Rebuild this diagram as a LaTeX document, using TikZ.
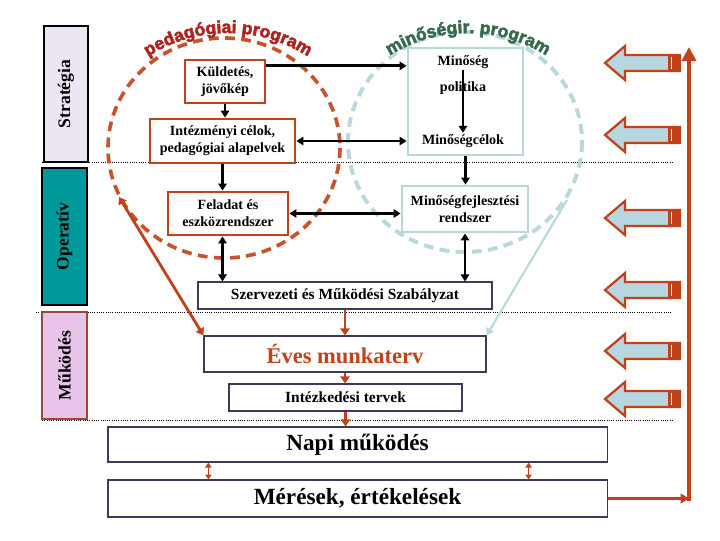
\documentclass[tikz,border=0pt]{standalone}
\usepackage{fontspec}
\setmainfont{Liberation Serif}
\setsansfont{Liberation Sans}
\newfontfamily\titlefont{Liberation Sans}[BoldFeatures={FakeBold=3}]
\usetikzlibrary{arrows.meta,decorations.text}
\definecolor{pedred}{RGB}{192,66,28}
\definecolor{circred}{RGB}{200,82,42}
\definecolor{qteal}{RGB}{184,216,220}
\definecolor{barteal}{RGB}{0,152,152}
\definecolor{navy}{RGB}{60,60,90}
\definecolor{stratfill}{RGB}{236,230,242}
\definecolor{mukfill}{RGB}{232,196,234}
\definecolor{mukline}{RGB}{160,70,55}
\definecolor{arrfill}{RGB}{182,214,224}
\definecolor{titred}{RGB}{172,36,30}
\definecolor{titgreen}{RGB}{56,106,80}

\begin{document}
\begin{tikzpicture}[x=0.025cm,y=-0.025cm,line join=miter,
  >={Triangle[length=5pt,width=6pt]},
  redbox/.style={draw=pedred,line width=2pt,fill=white,align=center,inner sep=1pt,font=\bfseries\fontsize{10}{12}\selectfont},
  qualbox/.style={draw=qteal,line width=2pt,fill=white,align=center,inner sep=1pt,font=\bfseries\fontsize{10}{12}\selectfont},
  qualtext/.style={inner sep=1pt,font=\bfseries\fontsize{10}{12}\selectfont},
  plainbox/.style={draw=navy,line width=0.8pt,fill=white,align=center,inner sep=1pt},
  sidebar/.style={draw,line width=0.8pt,inner sep=0pt,rotate=90,font=\bfseries\fontsize{12.5}{14}\selectfont},
  blk/.style={line width=2pt},
  redarr/.style={color=pedred,line width=2pt,>={Triangle[length=5pt,width=6.5pt]}},
  sepline/.style={densely dotted,line width=0.6pt},
  bigarr/.style={fill=arrfill,draw=pedred,line width=1.6pt}]
\useasboundingbox (0,0) rectangle (720,540);

\draw[sepline] (42,162) -- (672,162);
\draw[sepline] (36,312) -- (672,312);
\draw[sepline] (42,420) -- (672,420);

\draw[qteal,line width=2.8pt,dash pattern=on 7pt off 4.5pt] (465,142) ellipse[x radius=117,y radius=110];
\draw[circred,line width=2.6pt,dash pattern=on 7pt off 4.5pt] (224,148) ellipse[x radius=116,y radius=110];

\path[decorate,decoration={text along path,text align=center,text color=titred,
  text={|\titlefont\bfseries\fontsize{12.5}{14}\selectfont|pedagógiai program}}]
  (228,180) ++(234:147) arc[start angle=234,end angle=306,radius=147];
\path[decorate,decoration={text along path,text align=center,text color=titgreen,
  text={|\titlefont\bfseries\fontsize{12.5}{14}\selectfont|minőségir. program}}]
  (468,180) ++(234:147) arc[start angle=234,end angle=306,radius=147];

\node[sidebar,fill=stratfill,minimum width=3.4cm,minimum height=1.1cm] (strat) at (66,94) {Stratégia};
\node[sidebar,fill=barteal,minimum width=3.425cm,minimum height=1.125cm] (oper) at (64.5,236.5) {Operatív};
\node[sidebar,draw=mukline,fill=mukfill,minimum width=2.675cm,minimum height=1.125cm] (mukod) at (64.5,365.5) {Működés};

\node[redbox,minimum width=2cm,minimum height=1.075cm] (kuld) at (225,81.5) {Küldetés,\\jövőkép};
\node[redbox,minimum width=3.625cm,minimum height=1.1cm] (intez) at (222.5,141) {Intézményi célok,\\pedagógiai alapelvek};
\node[redbox,minimum width=3cm,minimum height=1.075cm] (felad) at (228,213.5) {Feladat és\\eszközrendszer};

\node[qualbox,minimum width=2.875cm,minimum height=2.675cm] (qbox) at (465.5,101.5) {};
\node[qualtext] (minq) at (463,62) {Minőség};
\node[qualtext] (polit) at (463,88) {politika};
\node[qualtext] (mcel) at (463,141) {Minőségcélok};
\node[qualbox,minimum width=3.15cm,minimum height=1.15cm] (mfejl) at (465,209) {Minőségfejlesztési\\rendszer};

\node[plainbox,minimum width=7.35cm,minimum height=0.675cm,font=\bfseries\fontsize{11}{13}\selectfont] (szmsz) at (345,295.5) {Szervezeti és Működési Szabályzat};
\node[plainbox,minimum width=7.05cm,minimum height=0.9cm,text=pedred,font=\bfseries\fontsize{16}{18}\selectfont] (eves) at (345,354) {Éves munkaterv};
\node[plainbox,minimum width=5.825cm,minimum height=0.675cm,font=\bfseries\fontsize{11}{13}\selectfont] (intterv) at (345.5,397.5) {Intézkedési tervek};
\node[plainbox,minimum width=12.475cm,minimum height=0.875cm,font=\bfseries\fontsize{16.5}{19}\selectfont] (napi) at (357.5,444.5) {Napi működés};
\node[plainbox,minimum width=12.475cm,minimum height=0.925cm,font=\bfseries\fontsize{16.5}{19}\selectfont] (meres) at (357.5,498.5) {Mérések, értékelések};

\foreach \yy in {63,135,218,290,351,399}{
  \filldraw[bigarr] (605,\yy) -- (625,\yy-17) -- (625,\yy-8) -- (680,\yy-8) -- (680,\yy+8) -- (625,\yy+8) -- (625,\yy+17) -- cycle;
  \fill[pedred] (668,\yy-8) rectangle (680,\yy+8);
  \draw[white,line width=0.6pt] (671,\yy-6) -- (671,\yy+6);
}

\coordinate (k1) at ([yshift=0.39cm]kuld.east);
\draw[blk,->] (k1) -- (k1 -| qbox.west);
\draw[blk,<->] (intez.east) -- (intez.east -| qbox.west);
\draw[blk,->] (kuld.south) -- (kuld.south |- intez.north);
\draw[blk,->] (intez.south) -- (intez.south |- felad.north);
\draw[blk,<->] (felad.east) -- (felad.east -| mfejl.west);
\draw[blk,<->] (intez.south |- felad.south) -- (intez.south |- szmsz.north);
\draw[blk,->] (minq.south) -- (mcel.north);
\draw[blk,->] (qbox.south) -- (qbox.south |- mfejl.north);
\draw[blk,<->] (mfejl.south) -- (mfejl.south |- szmsz.north);

\draw[redarr,->] (szmsz.south) -- (szmsz.south |- eves.north);
\draw[redarr,->] (eves.south) -- (eves.south |- intterv.north);
\draw[redarr,->] (intterv.south) -- (intterv.south |- napi.north);
\draw[pedred,line width=1.2pt,<->,>={Triangle[length=3.5pt,width=4.5pt]}] ([xshift=2.525cm]napi.south west) -- ([xshift=2.525cm]meres.north west);
\draw[pedred,line width=1.2pt,<->,>={Triangle[length=3.5pt,width=4.5pt]}] ([xshift=-1.975cm]napi.south east) -- ([xshift=-1.975cm]meres.north east);

\coordinate (rtail) at (119,197);
\draw[redarr,<->] (rtail) -- (eves.north west);
\coordinate (ttail) at (567,200);
\draw[qteal,line width=1.5pt,->] (ttail) -- (eves.north east);

\coordinate (lcorner) at (689,498.5);
\coordinate (lfoot) at (689,500.5);
\coordinate (ltop) at (689,47);
\draw[pedred,line width=2.6pt,-{Triangle[length=6pt,width=7pt]}] (meres.east) -- (lcorner);
\draw[pedred,line width=2.8pt,-{Triangle[length=10pt,width=10pt]}] (lfoot) -- (ltop);
\end{tikzpicture}
\end{document}
